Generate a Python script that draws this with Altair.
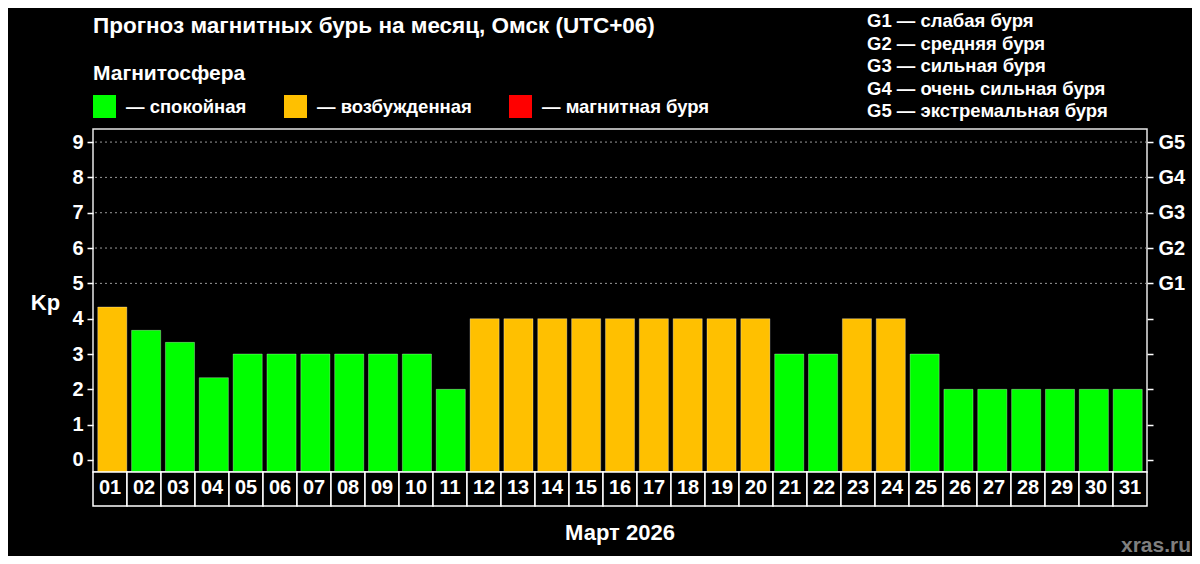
import altair as alt
import pandas as pd

FONT = "Liberation Sans"

# ---- data ----
days = [f"{d:02d}" for d in range(1, 32)]
kp = [4.33, 3.67, 3.33, 2.33, 3, 3, 3, 3, 3, 3, 2,
      4, 4, 4, 4, 4, 4, 4, 4, 4,
      3, 3, 4, 4, 3,
      2, 2, 2, 2, 2, 2]
status_names = ["спокойная", "возбужденная", "магнитная буря"]
status_colors = ["#00ff00", "#ffc000", "#ff0000"]
kp_ticks = [0, 1, 2, 3, 4, 5, 6, 7, 8, 9]
grid_levels = [5, 6, 7, 8, 9]
g_lines = ["G1 — слабая буря", "G2 — средняя буря", "G3 — сильная буря",
           "G4 — очень сильная буря", "G5 — экстремальная буря"]
title_text = "Прогноз магнитных бурь на месяц, Омск (UTC+06)"
legend_title = "Магнитосфера"
month_text = "Март 2026"
source_text = "xras.ru"


def status_of(v):
    if v < 4:
        return status_names[0]
    if v < 5:
        return status_names[1]
    return status_names[2]


df = pd.DataFrame({"day": days, "kp": kp, "status": [status_of(v) for v in kp]})
grid_df = pd.DataFrame({"level": grid_levels})

W, H = 1054, 343
YMIN, YMAX = -0.34, 9.37
yscale = alt.Scale(domain=[YMIN, YMAX], nice=False, zero=False)

grid = alt.Chart(grid_df).mark_rule(color="#9a9a9a", strokeDash=[2, 3], strokeWidth=1).encode(
    y=alt.Y("level:Q", scale=yscale,
            axis=alt.Axis(orient="right", values=kp_ticks, title=None,
                          labelExpr="datum.value >= 5 ? 'G' + (datum.value - 4) : ''",
                          labelColor="white", labelFont=FONT, labelFontSize=20,
                          labelFontWeight="bold", labelPadding=5, tickSize=6,
                          tickColor="white", tickWidth=1.5, domain=False, grid=False))
)

bars = alt.Chart(df).mark_bar(stroke="white", strokeOpacity=0.3, strokeWidth=1).encode(
    x=alt.X("day:O", sort=days, scale=alt.Scale(paddingInner=0.14, paddingOuter=0.14), axis=None),
    y=alt.Y("kp:Q", scale=yscale,
            axis=alt.Axis(orient="left", values=kp_ticks, title="Kp", titleAngle=0,
                          titleX=-48, titleY=173, titleAlign="center", titleBaseline="middle",
                          titleColor="white", titleFont=FONT, titleFontSize=22, titleFontWeight="bold",
                          labelColor="white", labelFont=FONT, labelFontSize=20,
                          labelFontWeight="bold", labelPadding=4, tickSize=6,
                          tickColor="white", tickWidth=1.5, domain=False, grid=False)),
    y2=alt.datum(YMIN),
    color=alt.Color("status:N",
                    scale=alt.Scale(domain=status_names, range=status_colors),
                    legend=alt.Legend(title=legend_title, orient="none", legendX=0, legendY=-66,
                                      direction="horizontal", symbolType="square", symbolSize=529,
                                      symbolStrokeWidth=0, symbolOpacity=1,
                                      labelExpr="'— ' + datum.label", labelLimit=400,
                                      labelColor="white", labelFont=FONT, labelFontSize=18.5,
                                      labelFontWeight="bold", labelOffset=10,
                                      titleColor="white", titleFont=FONT, titleFontSize=21,
                                      titleFontWeight="bold", titlePadding=11,
                                      columnPadding=37, padding=0)),
)

boxes = alt.Chart(df).mark_bar(fill="black", stroke="white", strokeWidth=1.5).encode(
    x=alt.X("day:O", sort=days, scale=alt.Scale(paddingInner=0, paddingOuter=0), axis=None),
    y=alt.value(H),
    y2=alt.value(H + 34),
)

box_labels = alt.Chart(df).mark_text(color="white", font=FONT, fontSize=20, fontWeight="bold",
                                     baseline="middle").encode(
    x=alt.X("day:O", sort=days, axis=None),
    y=alt.value(H + 16),
    text="day:N",
)


def label(text, x, y, size, color="white", align="left", line_height=None):
    kw = dict(align=align, baseline="alphabetic", fontSize=size, fontWeight="bold",
              font=FONT, color=color)
    if line_height:
        kw.update(lineBreak="\n", lineHeight=line_height)
    return alt.Chart(pd.DataFrame({"t": [text]})).mark_text(**kw).encode(
        text="t:N", x=alt.value(x), y=alt.value(y))


title = label(title_text, 0, -96, 22.5)
glegend = label("\n".join(g_lines), 774, -102, 18.5, line_height=22.6)
month = label(month_text, W / 2, 411, 22, align="center")
source = label(source_text, 1098, 423, 21, color="#7f7f7f", align="right")

chart = alt.layer(grid, bars, boxes, box_labels, title, glegend, month, source).resolve_scale(
    x="independent", y="independent"
).properties(
    width=W, height=H,
    padding={"left": 85, "top": 121, "right": 45, "bottom": 84},
    autosize=alt.AutoSizeParams(type="none"),
    background="black",
).configure_view(stroke="#e6e6e6", strokeWidth=1.5)

chart.save("out.html", embed_options={"renderer": "svg", "actions": False})
